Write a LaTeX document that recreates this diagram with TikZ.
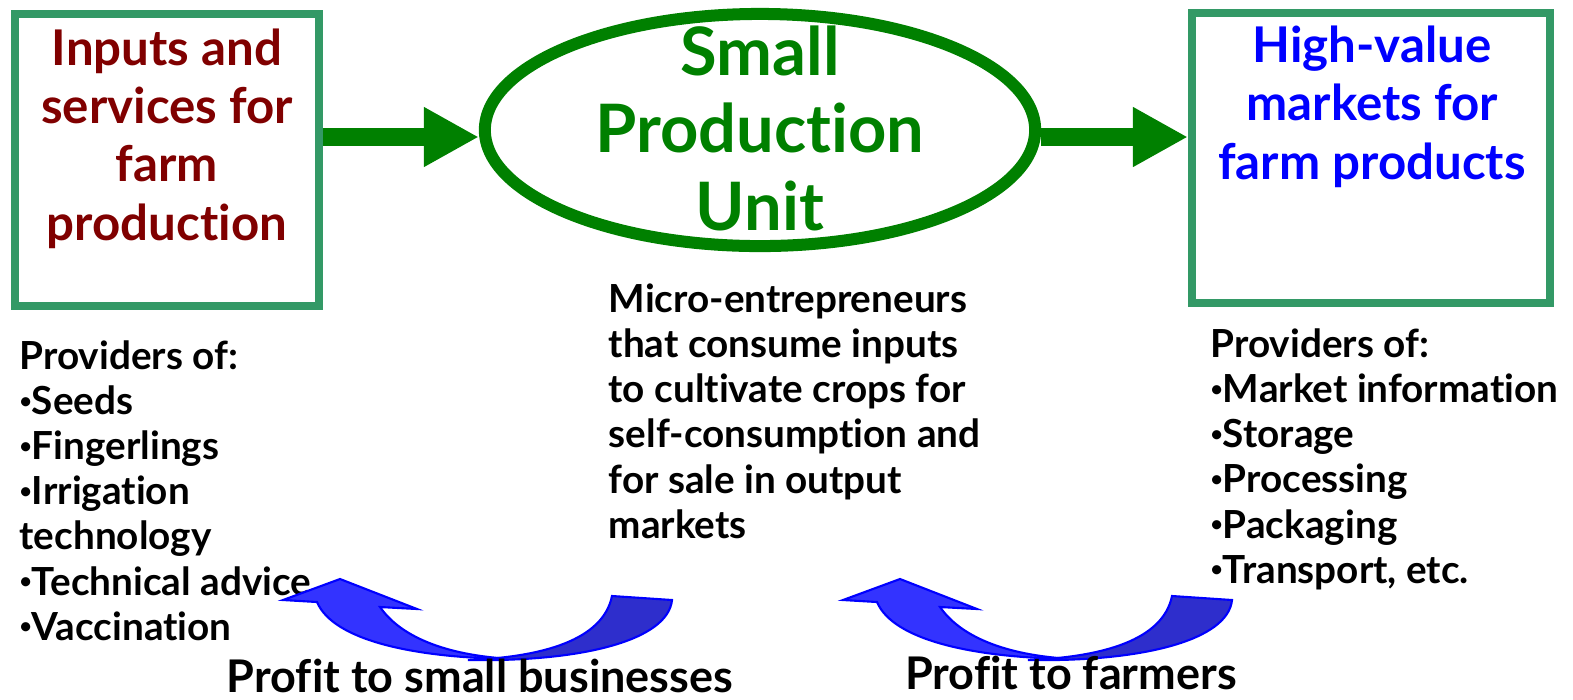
\documentclass[tikz,border=0pt]{standalone}
\usepackage{fontspec}
\setmainfont{Lato}[Ligatures=NoCommon]
\usetikzlibrary{arrows.meta,shapes.geometric}
\definecolor{boxgreen}{HTML}{339966}
\definecolor{unitgreen}{HTML}{008000}
\definecolor{inputred}{HTML}{800000}
\definecolor{bandblue}{HTML}{3333FF}
\definecolor{tailblue}{HTML}{2E2ECC}
\newcommand{\dotitem}{\raisebox{1.8pt}{\fontsize{6}{6}\selectfont•}}

\tikzset{
	profit/.pic={
		\filldraw[draw=blue, fill=bandblue, line width=0.6pt] (0,0) -- (57,-21) -- (134,9) -- (97,7) .. controls (120,40) and (170,56) .. (230,59) .. controls (130,58) and (50,40) .. (34,2) -- cycle;
		\filldraw[draw=blue, fill=tailblue, line width=0.6pt] (329,-4) -- (389,0) .. controls (385,40) and (300,62) .. (185,60) .. controls (260,57) and (320,40) .. (329,-4) -- cycle;
	}
}

\begin{document}
\begin{tikzpicture}[x=0.01cm, y=-0.01cm,
		box/.style={draw=boxgreen, line width=0.08cm, inner sep=0pt},
		head/.style={font=\fontsize{14}{16.5}\selectfont\bfseries, align=center, anchor=base, inner sep=0pt},
		list/.style={font=\fontsize{11}{12.8}\selectfont\bfseries, align=left, anchor=base west, inner sep=0pt},
		label/.style={font=\fontsize{12.8}{15}\selectfont\bfseries, anchor=base, inner sep=0pt},
		flow/.style={draw=unitgreen, line width=0.18cm, -{Triangle[length=0.55cm, width=0.56cm]}}]
	\useasboundingbox (0,0) rectangle (1573,699);

	\node[box, minimum width=3.04cm, minimum height=2.91cm] (inputs) at (167,160) {};
	\node[box, minimum width=3.58cm, minimum height=2.90cm] (markets) at (1371,158) {};
	\node[ellipse, draw=unitgreen, line width=0.12cm, inner sep=0pt, minimum width=5.50cm, minimum height=2.32cm] (unit) at (760,130) {};

	\node[head, text=inputred] (inputstext) at (167,240) {Inputs and\\services for\\farm\\production};
	\node[head, text=blue] (marketstext) at (1372,179) {High-value\\markets for\\farm products};
	\node[head, text=unitgreen, font=\fontsize{19}{22}\selectfont\bfseries] (unittext) at (760,230) {Small\\Production\\Unit};

	\coordinate (mid) at (0,137);
	\draw[flow] (inputs.east |- mid) -- (unit.west |- mid);
	\draw[flow] (unit.east |- mid) -- (markets.west |- mid);

	\node[list] (suppliers) at (19,640) {Providers of:\\\dotitem Seeds\\\dotitem Fingerlings\\\dotitem Irrigation\\technology\\\dotitem Technical advice\\\dotitem Vaccination};
	\node[list] (microtext) at (608,538) {Micro-entrepreneurs\\that consume inputs\\to cultivate crops for\\self-consumption and\\for sale in output\\markets};
	\node[list] (services) at (1210,583) {Providers of:\\\dotitem Market information\\\dotitem Storage\\\dotitem Processing\\\dotitem Packaging\\\dotitem Transport, etc.};

	\pic at (283,600) {profit};
	\pic at (843,600) {profit};

	\node[label] (profitsmall) at (480,692) {Profit to small businesses};
	\node[label] (profitfarm) at (1071,689) {Profit to farmers};
\end{tikzpicture}
\end{document}
